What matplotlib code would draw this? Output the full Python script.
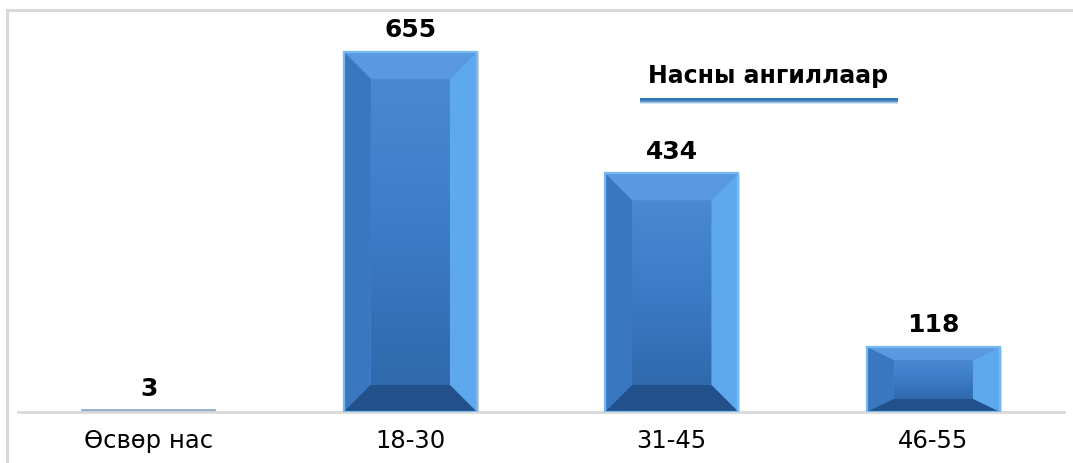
import numpy as np
import matplotlib.pyplot as plt
from matplotlib.patches import Polygon, Rectangle
from matplotlib.lines import Line2D
from matplotlib.colors import LinearSegmentedColormap

categories = ['Өсвөр нас', '18-30', '31-45', '46-55']
counts = [3, 655, 434, 118]
title = 'Насны ангиллаар'

W, H = 1073, 463
fig = plt.figure(figsize=(W / 100, H / 100), dpi=100)
plt.rcParams['font.family'] = ['DejaVu Sans']

# frame of the chart area (only top and left edges fall inside the image)
fig.lines.append(Line2D([7 / W, 7 / W, 1.0], [0.0, (H - 10) / H, (H - 10) / H],
                        transform=fig.transFigure, color='#d9d9d9', lw=2.2,
                        solid_joinstyle='miter', zorder=0))

ax = fig.add_axes([18 / W, 51 / H, (1064 - 18) / W, (412 - 27) / H])
x = np.arange(len(categories))
bars = ax.bar(x, counts, width=0.51, color='#3f7ecb', edgecolor='#72b6f3',
              linewidth=1.2, zorder=2)
ax.set_xlim(-0.5, 3.5)
ax.set_ylim(0, 700)

# pixel -> data
px_x = 4.0 / 1046
px_y = 700.0 / 385
face_cmap = LinearSegmentedColormap.from_list('face', ['#3069ad', '#3c7bc6', '#4a89d2'])

for b in bars:
    x0, y0 = b.get_x(), b.get_y()
    x1, y1 = x0 + b.get_width(), y0 + b.get_height()
    hpx = b.get_height() / px_y
    if hpx < 6:
        b.set_edgecolor('#8fa9cc')
        b.set_facecolor('#8fa9cc')
        continue
    # soft shadow
    ax.add_patch(Rectangle((x0 + 2 * px_x, y0 - 2 * px_y), b.get_width(), b.get_height(),
                           facecolor='#9a9a9a', alpha=0.35, edgecolor='none', zorder=1))
    bx = 27 * px_x
    bv = min(27, hpx * 0.2) * px_y
    ix0, ix1, iy0, iy1 = x0 + bx, x1 - bx, y0 + bv, y1 - bv
    grad = np.linspace(0, 1, 100).reshape(-1, 1)
    ax.imshow(grad, extent=(ix0, ix1, iy0, iy1), origin='lower', cmap=face_cmap,
              aspect='auto', zorder=3)
    ax.add_patch(Polygon([(x0, y1), (x1, y1), (ix1, iy1), (ix0, iy1)],
                         facecolor='#5a99e0', edgecolor='none', zorder=3))
    ax.add_patch(Polygon([(x0, y0), (x0, y1), (ix0, iy1), (ix0, iy0)],
                         facecolor='#3a77c1', edgecolor='none', zorder=3))
    ax.add_patch(Polygon([(x1, y0), (x1, y1), (ix1, iy1), (ix1, iy0)],
                         facecolor='#5ea9ee', edgecolor='none', zorder=3))
    ax.add_patch(Polygon([(x0, y0), (x1, y0), (ix1, iy0), (ix0, iy0)],
                         facecolor='#21508a', edgecolor='none', zorder=3))
    ax.add_patch(Rectangle((x0, y0), b.get_width(), b.get_height(), fill=False,
                           edgecolor='#74b8f4', lw=1.6, zorder=4))

ax.set_xlim(-0.5, 3.5)
ax.set_ylim(0, 700)

for xi, v in zip(x, counts):
    ax.annotate(str(v), (xi, v), xytext=(0, 7), textcoords='offset points',
                ha='center', va='bottom', fontsize=18, fontweight='bold', zorder=5)

ax.set_xticks(x)
ax.set_xticklabels(categories, fontsize=17.5)
ax.tick_params(axis='x', length=0, pad=12)
ax.set_yticks([])
for s in ['top', 'left', 'right']:
    ax.spines[s].set_visible(False)
ax.spines['bottom'].set_color('#d9d9d9')
ax.spines['bottom'].set_linewidth(2)
ax.patch.set_alpha(0)

# title box with blue shadow
bx0, bx1, by0, by1 = 638 / W, 898 / W, (H - 98) / H, (H - 55) / H
for k in range(6):
    fig.patches.append(Rectangle((bx0 + 0.002, by0 - (k + 1) / H), bx1 - bx0 - 0.002, by1 - by0,
                                 transform=fig.transFigure, facecolor='#2e75b6',
                                 alpha=0.9 - k * 0.14, edgecolor='none', zorder=6))
fig.patches.append(Rectangle((bx0, by0), bx1 - bx0, by1 - by0, transform=fig.transFigure,
                             facecolor='white', edgecolor='none', zorder=7))
fig.text((bx0 + bx1) / 2, (by0 + by1) / 2, title, ha='center', va='center',
         fontsize=17, fontweight='bold', zorder=8)

fig.savefig('out.png', dpi=100)
